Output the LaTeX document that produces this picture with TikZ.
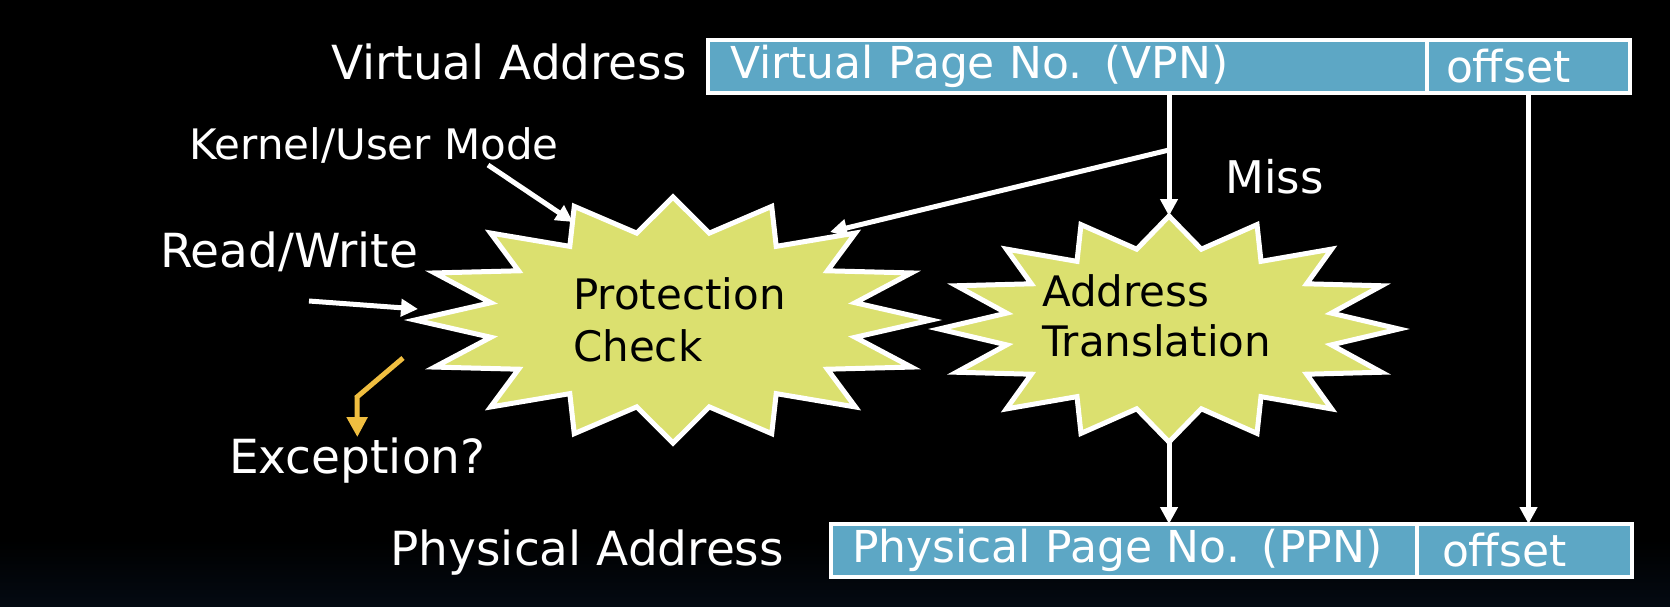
\documentclass[tikz,border=0pt]{standalone}
\usepackage{fontspec}
\setmainfont{DejaVu Sans}
\usetikzlibrary{arrows.meta,positioning}

\definecolor{fieldblue}{RGB}{93,167,197}
\definecolor{burstgreen}{RGB}{219,224,111}
\definecolor{excorange}{RGB}{240,190,64}
\definecolor{bgnavy}{RGB}{4,10,18}

% 16-point burst: name, centre x, centre y, x radius, y radius
\newcommand{\burst}[5]{%
  \draw[burst] ({#2},{#3-#5}) coordinate (#1-0)
    \foreach \k in {1,...,31}{
      -- ({#2+#4*(1-0.28*mod(\k,2))*sin(\k*11.25)},{#3-#5*(1-0.28*mod(\k,2))*cos(\k*11.25)}) coordinate (#1-\k)
    } -- cycle;
}

\tikzset{
  burst/.style={draw=white, line width=5pt, fill=burstgreen},
  field/.style={draw=white, line width=3.5pt, fill=fieldblue, text=white, align=left,
    minimum height=53pt, inner ysep=0pt, outer sep=0pt, anchor=north west,
    font=\fontsize{44}{52}\selectfont},
  lbl/.style={text=white, inner sep=0pt, font=\fontsize{47}{56}\selectfont},
  wire/.style={draw=white, line width=5pt, -{Triangle[length=17pt,width=17pt]}},
  excwire/.style={draw=excorange, line width=5pt, -{Triangle[length=20pt,width=20pt]}},
}

\begin{document}
\begin{tikzpicture}[x=1pt,y=-1pt]
  \useasboundingbox (0,0) rectangle (1670,606);
  \fill[black] (0,0) rectangle (1670,606);
  \shade[top color=black, bottom color=bgnavy] (0,540) rectangle (1670,606);

  % the two checks
  \burst{pc}{673}{320}{258}{123}
  \burst{at}{1169}{329}{230}{113}
  \node[lbl, text=black, align=left, anchor=west, font=\fontsize{42}{52}\selectfont] (pcheck) at (573,320) {Protection\\Check};
  \node[lbl, text=black, align=left, anchor=west, font=\fontsize{42}{50}\selectfont] (atrans) at (1042,316) {Address\\Translation};

  % address fields
  \node[field, text width=675pt, inner xsep=22pt] (vpn) at (708,40) {Virtual Page No. (VPN)};
  \node[field, text width=165pt, inner xsep=19pt] (voff) at (vpn.north east) {offset};
  \node[field, text width=544pt, inner xsep=21pt] (ppn) at (831,524) {Physical Page No. (PPN)};
  \node[field, text width=165pt, inner xsep=25pt] (poff) at (ppn.north east) {offset};

  % labels
  \node[lbl, anchor=base east] (vaddr) at (687,79) {Virtual Address};
  \node[lbl, anchor=base east] (paddr) at (784,565) {Physical Address};
  \node[lbl, anchor=base west, font=\fontsize{42}{50}\selectfont] (kmode) at (189,159) {Kernel/User Mode};
  \node[lbl, anchor=base west] (rw) at (160,267) {Read/Write};
  \node[lbl, anchor=base west, font=\fontsize{45}{54}\selectfont] (miss) at (1225,193) {Miss};
  \node[lbl, anchor=base west] (exc) at (229,473) {Exception?};

  \coordinate (fork) at (1169,150);
  \coordinate (pctip) at (830,232);
  \coordinate (modefoot) at (488,165);
  \coordinate (modetip) at (573,222);
  \coordinate (rwfoot) at (309,301);
  \coordinate (rwtip) at (418,309);
  \coordinate (excfoot) at (403,358);
  \coordinate (excbend) at (357,397);

  % connectors
  \draw[wire] (vpn.south -| at-0) -- (at-0);
  \draw[wire] (fork) -- (pctip);
  \draw[wire] (voff.south) -- (voff.south |- poff.north);
  \draw[wire] (at-16) -- (at-16 |- ppn.north);
  \draw[wire] (modefoot) -- (modetip);
  \draw[wire] (rwfoot) -- (rwtip);
  \draw[excwire] (excfoot) -- (excbend) -- (exc.north);
\end{tikzpicture}
\end{document}
